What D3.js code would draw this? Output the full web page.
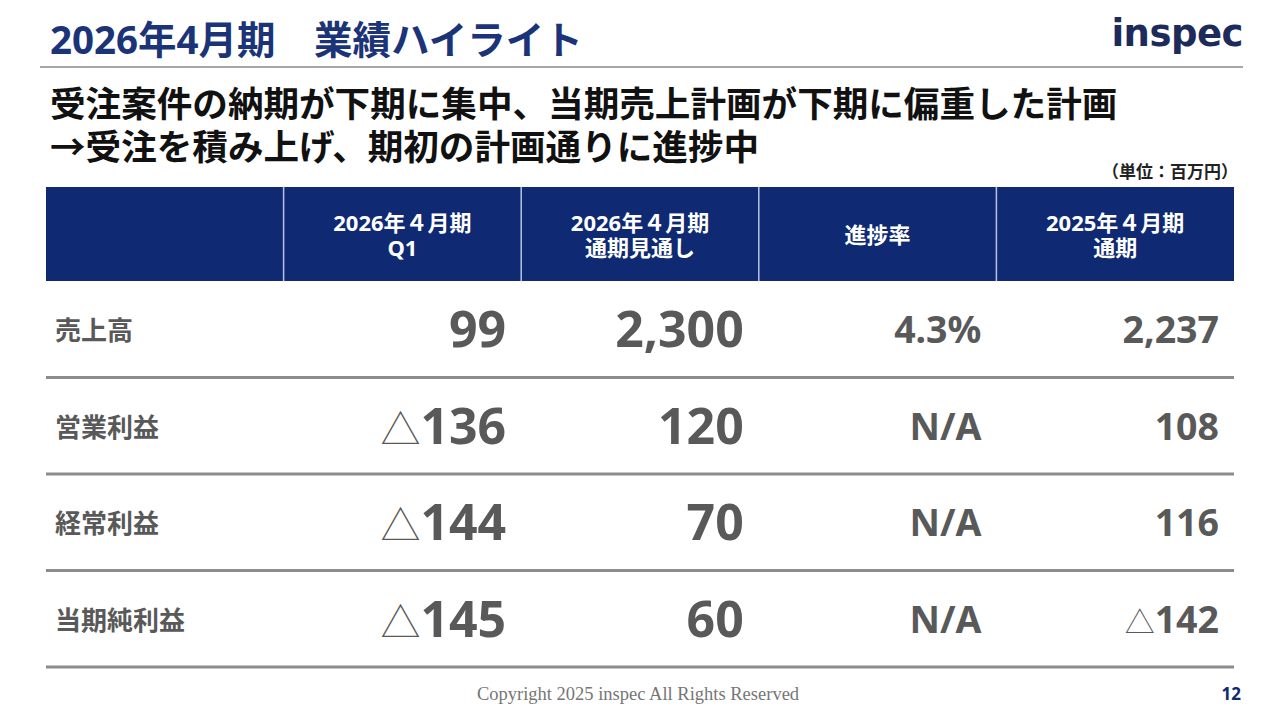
<!DOCTYPE html>
<html>
<head>
<meta charset="utf-8">
<script src="https://cdn.jsdelivr.net/npm/d3@7"></script>
<style>
  body { margin: 0; background: #fff; }
  svg { display: block; }
</style>
</head>
<body>
<div id="slide"></div>
<script>
// values in 百万円, negatives shown with △
const rowLabels = ["売上高", "営業利益", "経常利益", "当期純利益"];
const columnKeys = ["label", "q1", "forecast", "progress", "prev"];
const columnHeads = [[], ["2026年４月期", "Q1"], ["2026年４月期", "通期見通し"], ["進捗率"], ["2025年４月期", "通期"]];
const q1Values = [99, -136, -144, -145];
const forecastValues = [2300, 120, 70, 60];
const progressValues = ["4.3%", "N/A", "N/A", "N/A"];
const prevValues = [2237, 108, 116, -142];

const W = 1280, H = 720;
const navy = "#0f2a73";
const grey = "#595959";
const jp = "'Noto Sans CJK JP', sans-serif";
const num = "'Noto Sans', 'Noto Sans CJK JP', sans-serif";

function main() {
    const svg = d3.select("#slide")
        .append("svg")
        .attr("width", W)
        .attr("height", H);

    // Title + rule
    svg.append("text")
        .attr("x", 50).attr("y", 54)
        .attr("font-family", num)
        .attr("font-size", 38.5).attr("font-weight", 700)
        .attr("fill", "#1b3478")
        .text("2026年4月期　業績ハイライト");

    svg.append("line")
        .attr("x1", 40).attr("x2", 1243)
        .attr("y1", 67).attr("y2", 67)
        .attr("stroke", "#a6a6a6").attr("stroke-width", 2);

    // Logo
    svg.append("text")
        .attr("x", 1243).attr("y", 46)
        .attr("text-anchor", "end")
        .attr("font-family", "'DejaVu Sans', sans-serif")
        .attr("font-size", 37).attr("font-weight", 700)
        .attr("letter-spacing", -0.5)
        .attr("fill", "#1d2a5c")
        .text("inspec");

    // Subtitle
    const sub = ["受注案件の納期が下期に集中、当期売上計画が下期に偏重した計画",
                 "→受注を積み上げ、期初の計画通りに進捗中"];
    svg.append("g").selectAll("text")
        .data(sub)
        .enter()
        .append("text")
        .attr("x", 50)
        .attr("y", (d, i) => 117 + i * 43)
        .attr("font-family", jp)
        .attr("font-size", 35.6).attr("font-weight", 700)
        .attr("fill", "#111")
        .text(d => d);

    svg.append("text")
        .attr("x", 1238).attr("y", 178)
        .attr("text-anchor", "end")
        .attr("font-family", jp)
        .attr("font-size", 17).attr("font-weight", 700)
        .attr("fill", "#222")
        .text("（単位：百万円）");

    // Table scales
    const x = d3.scaleBand()
        .domain(columnKeys)
        .range([46, 1234]);

    const y = d3.scaleBand()
        .domain(rowLabels)
        .range([281, 667]);

    // Header
    svg.append("rect")
        .attr("x", x.range()[0]).attr("y", 187)
        .attr("width", x.range()[1] - x.range()[0])
        .attr("height", 94)
        .attr("fill", navy);

    svg.append("g").selectAll("line")
        .data(columnKeys.slice(1))
        .enter()
        .append("line")
        .attr("x1", d => x(d)).attr("x2", d => x(d))
        .attr("y1", 187).attr("y2", 281)
        .attr("stroke", "#b9c3e0").attr("stroke-width", 1.5);

    const head = svg.append("g").selectAll("text")
        .data(columnKeys.map((k, i) => ({key: k, lines: columnHeads[i]})))
        .enter()
        .append("text")
        .attr("text-anchor", "middle")
        .attr("font-family", num)
        .attr("font-size", 22).attr("font-weight", 700)
        .attr("fill", "#fff");

    head.each(function (d) {
        const t = d3.select(this);
        const n = d.lines.length;
        d.lines.forEach((s, i) => {
            t.append("tspan")
                .attr("x", x(d.key) + x.bandwidth() / 2)
                .attr("y", 243 + (i - (n - 1) / 2) * 25)
                .text(s);
        });
    });

    // Row rules
    svg.append("g").selectAll("line")
        .data(rowLabels)
        .enter()
        .append("line")
        .attr("x1", x.range()[0]).attr("x2", x.range()[1])
        .attr("y1", d => y(d) + y.bandwidth())
        .attr("y2", d => y(d) + y.bandwidth())
        .attr("stroke", "#8c8c8c").attr("stroke-width", 3);

    // Row labels
    svg.append("g").selectAll("text")
        .data(rowLabels)
        .enter()
        .append("text")
        .attr("x", x("label") + 9)
        .attr("y", d => y(d) + y.bandwidth() / 2 + 11)
        .attr("font-family", jp)
        .attr("font-size", 26).attr("font-weight", 700)
        .attr("fill", grey)
        .text(d => d);

    // Cells
    const cols = [
        {key: "q1", values: q1Values, size: 50, dy: 18},
        {key: "forecast", values: forecastValues, size: 50, dy: 18},
        {key: "progress", values: progressValues, size: 37.5, dy: 14},
        {key: "prev", values: prevValues, size: 37.5, dy: 14},
    ];

    const fmt = d3.format(",");

    cols.forEach(c => {
        const cells = svg.append("g").selectAll("text")
            .data(c.values.map((v, i) => ({v: v, row: rowLabels[i]})))
            .enter()
            .append("text")
            .attr("x", x(c.key) + x.bandwidth() - 15)
            .attr("y", d => y(d.row) + y.bandwidth() / 2 + c.dy)
            .attr("text-anchor", "end")
            .attr("font-size", c.size)
            .attr("fill", grey);

        cells.each(function (d) {
            const t = d3.select(this);
            if (typeof d.v === "number" && d.v < 0) {
                t.append("tspan")
                    .attr("font-family", jp)
                    .attr("font-weight", 300)
                    .attr("font-size", c.size * 0.8)
                    .text("△");
            }
            t.append("tspan")
                .attr("font-family", num)
                .attr("font-weight", 700)
                .text(typeof d.v === "number" ? fmt(Math.abs(d.v)) : d.v);
        });
    });

    // Footer
    svg.append("text")
        .attr("x", 638).attr("y", 700)
        .attr("text-anchor", "middle")
        .attr("font-family", "'Liberation Serif', serif")
        .attr("font-size", 18.5)
        .attr("fill", "#767676")
        .text("Copyright 2025 inspec All Rights Reserved");

    svg.append("text")
        .attr("x", 1241).attr("y", 700)
        .attr("text-anchor", "end")
        .attr("font-family", num)
        .attr("font-size", 17).attr("font-weight", 700)
        .attr("fill", navy)
        .text("12");
}

main()
</script>
</body>
</html>
